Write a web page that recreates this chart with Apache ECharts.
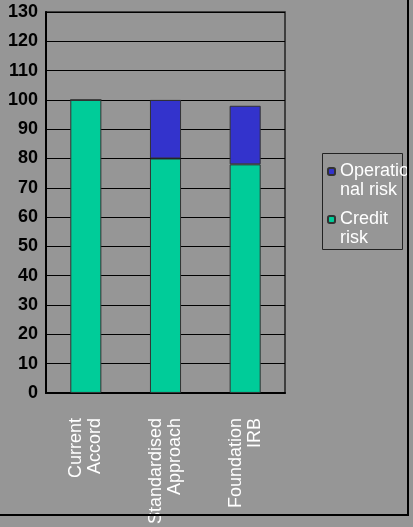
<!DOCTYPE html>
<html>
<head>
<meta charset="utf-8">
<script src="https://cdn.jsdelivr.net/npm/echarts@6/dist/echarts.min.js"></script>
<style>
html,body{margin:0;padding:0;background:#969696;}
#chart{width:413px;height:527px;}
</style>
</head>
<body>
<div id="chart"></div>
<script>
var categories = ['Current\nAccord', 'Standardised\nApproach', 'Foundation\nIRB'];
var creditRisk = [100, 80, 78];
var operationalRisk = [0, 20, 20];
var seriesNames = ['Credit risk', 'Operational risk'];
// a blank first line keeps the legend icon next to the first text line
var legendLabels = {'Operational risk': ' \nOperatio\nnal risk', 'Credit risk': ' \nCredit\nrisk'};

var chart = echarts.init(document.getElementById('chart'));
chart.setOption({
    backgroundColor: '#969696',
    animation: false,
    grid: {
        left: 46, top: 12, right: 128, bottom: 133,
        show: true, borderColor: '#222', borderWidth: 1.5
    },
    legend: {
        orient: 'vertical',
        left: 322, top: 153,
        padding: [-10, 0, 0, 5],
        itemWidth: 7, itemHeight: 7, itemGap: -9,
        data: ['Operational risk', 'Credit risk'],
        formatter: function (name) { return legendLabels[name]; },
        textStyle: {
            color: '#fff', fontSize: 18, lineHeight: 19,
            fontFamily: 'Liberation Sans, Arial, sans-serif'
        }
    },
    xAxis: {
        type: 'category',
        data: categories,
        axisLine: {lineStyle: {color: '#000', width: 2}},
        axisTick: {inside: true, length: 5, lineStyle: {color: '#000'}},
        axisLabel: {
            rotate: 90, margin: 25, color: '#fff', fontSize: 18, lineHeight: 19,
            fontFamily: 'Liberation Sans, Arial, sans-serif', interval: 0
        }
    },
    yAxis: {
        type: 'value',
        min: 0, max: 130, interval: 10,
        axisLine: {show: true, lineStyle: {color: '#000', width: 2}},
        axisTick: {show: true, inside: true, length: 5, lineStyle: {color: '#000'}},
        axisLabel: {
            color: '#000', fontSize: 18, fontWeight: 'bold', margin: 8,
            fontFamily: 'Liberation Sans, Arial, sans-serif'
        },
        splitLine: {lineStyle: {color: '#000', width: 1}}
    },
    series: [
        {
            name: seriesNames[0], type: 'bar', stack: 'total', data: creditRisk,
            barWidth: '39%',
            itemStyle: {color: '#00CC99', borderColor: '#333', borderWidth: 1}
        },
        {
            name: seriesNames[1], type: 'bar', stack: 'total', data: operationalRisk,
            barWidth: '39%',
            itemStyle: {color: '#3333CC', borderColor: '#333', borderWidth: 1}
        }
    ],
    graphic: [
        {type: 'rect', shape: {x: 322.5, y: 153.5, width: 80, height: 96},
         style: {fill: 'none', stroke: '#222', lineWidth: 1}, silent: true},
        {type: 'rect', shape: {x: -5, y: -5, width: 413, height: 520},
         style: {fill: 'none', stroke: '#000', lineWidth: 2}, silent: true, z: 10}
    ]
});
</script>
</body>
</html>
